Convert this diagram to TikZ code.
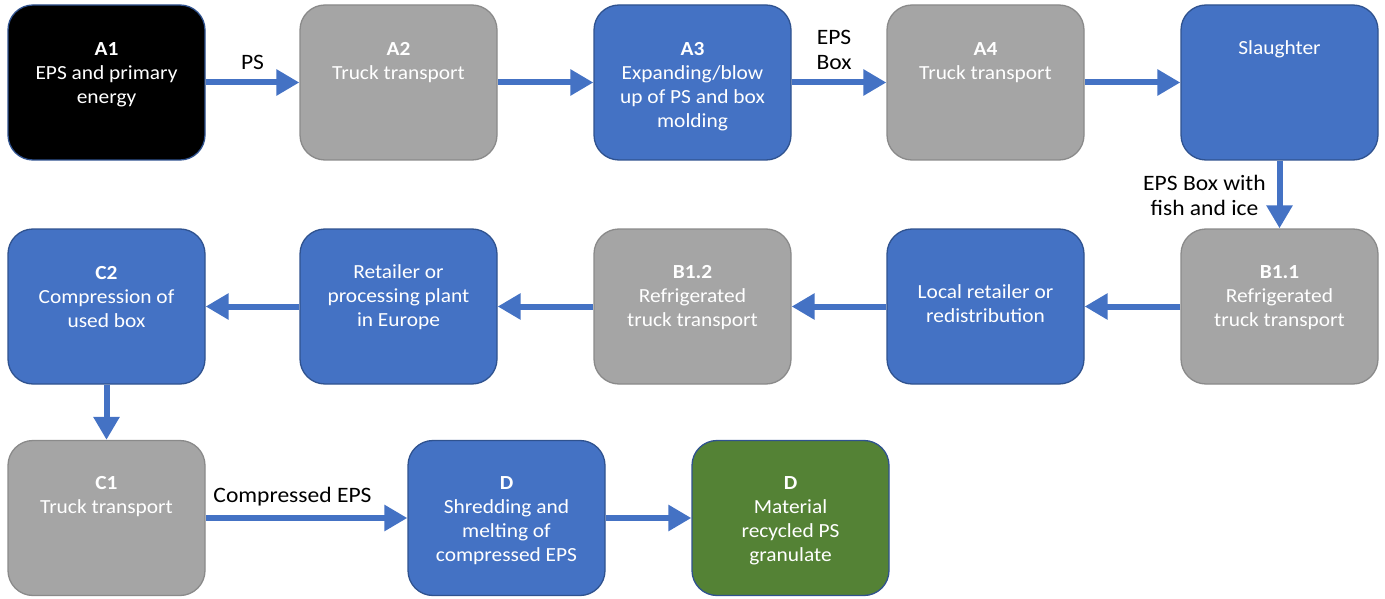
\documentclass[tikz,border=0pt]{standalone}
\usepackage{fontspec}
\setmainfont{Carlito}[FakeStretch=1.07]
\usetikzlibrary{arrows.meta}
\definecolor{boxblue}{HTML}{4472C4}
\definecolor{boxgray}{HTML}{A5A5A5}
\definecolor{boxgreen}{HTML}{548235}
\definecolor{edgeblue}{HTML}{2F528F}
\definecolor{edgegray}{HTML}{8A8A8A}
\definecolor{arrowblue}{HTML}{4472C4}
\tikzset{
  x=1pt, y=1pt,
  stagebox/.style={rounded corners=25pt, minimum width=197pt, minimum height=155pt, line width=1.3pt, inner sep=0pt},
  bluebox/.style={stagebox, fill=boxblue, draw=edgeblue},
  graybox/.style={stagebox, fill=boxgray, draw=edgegray},
  blackbox/.style={stagebox, fill=black, draw=edgeblue},
  greenbox/.style={stagebox, fill=boxgreen, draw=edgeblue},
  boxtext/.style={text=white, align=center, inner sep=0pt, yshift=-2.5pt, font=\fontsize{20}{24}\selectfont},
  flowlabel/.style={text=black, align=center, inner sep=0pt, font=\fontsize{22}{25}\selectfont},
  flow/.style={draw=arrowblue, line width=6pt, -{Triangle[length=23pt,width=25pt]}},
}
\begin{document}
\begin{tikzpicture}
\useasboundingbox (0,0) rectangle (1385,-599);
% row 1
\node[blackbox] (a1) at (106.5,-82.5) {};
\node[graybox]  (a2) at (398.5,-82.5) {};
\node[bluebox]  (a3) at (692.5,-82.5) {};
\node[graybox]  (a4) at (985.5,-82.5) {};
\node[bluebox]  (sl) at (1279.5,-82.5) {};
% row 2
\node[bluebox]  (c2) at (106.5,-306.5) {};
\node[bluebox]  (re) at (398.5,-306.5) {};
\node[graybox]  (b12) at (692.5,-306.5) {};
\node[bluebox]  (lo) at (985.5,-306.5) {};
\node[graybox]  (b11) at (1279.5,-306.5) {};
% row 3
\node[graybox]  (c1) at (106.5,-518) {};
\node[bluebox]  (d1) at (506.5,-518) {};
\node[greenbox] (d2) at (790.5,-518) {};
% texts
\node[boxtext] (a1t) at (106.5,-72) {\textbf{A1}\\EPS and primary\\energy};
\node[boxtext] (a2t) at (398.5,-60) {\textbf{A2}\\Truck transport};
\node[boxtext] (a3t) at (692.5,-84) {\textbf{A3}\\Expanding/blow\\up of PS and box\\molding};
\node[boxtext] (a4t) at (985.5,-60) {\textbf{A4}\\Truck transport};
\node[boxtext] (slt) at (1279.5,-47) {Slaughter};
\node[boxtext] (c2t) at (106.5,-295) {\textbf{C2}\\Compression of\\used box};
\node[boxtext] (ret) at (398.5,-295) {Retailer or\\processing plant\\in Europe};
\node[boxtext] (b12t) at (692.5,-295) {\textbf{B1.2}\\Refrigerated\\truck transport};
\node[boxtext] (lot) at (985.5,-301) {Local retailer or\\redistribution};
\node[boxtext] (b11t) at (1279.5,-295) {\textbf{B1.1}\\Refrigerated\\truck transport};
\node[boxtext] (c1t) at (106.5,-494) {\textbf{C1}\\Truck transport};
\node[boxtext] (d1t) at (506.5,-518) {\textbf{D}\\Shredding and\\melting of\\compressed EPS};
\node[boxtext] (d2t) at (790.5,-518) {\textbf{D}\\Material\\recycled PS\\granulate};
% connectors
\draw[flow] (a1) -- node[flowlabel, yshift=20pt] (lps) {PS} (a2);
\draw[flow] (a2) -- (a3);
\draw[flow] (a3) -- node[flowlabel, xshift=-5pt, yshift=33pt] (leps) {EPS\\Box} (a4);
\draw[flow] (a4) -- (sl);
\draw[flow] (sl) -- node[flowlabel, xshift=-75pt, yshift=-1pt] (lfish) {EPS Box with\\fish and ice} (b11);
\draw[flow] (b11) -- (lo);
\draw[flow] (lo) -- (b12);
\draw[flow] (b12) -- (re);
\draw[flow] (re) -- (c2);
\draw[flow] (c2) -- (c1);
\draw[flow] (c1) -- node[flowlabel, xshift=-14pt, yshift=21pt] (lcomp) {Compressed EPS} (d1);
\draw[flow] (d1) -- (d2);
\end{tikzpicture}
\end{document}
